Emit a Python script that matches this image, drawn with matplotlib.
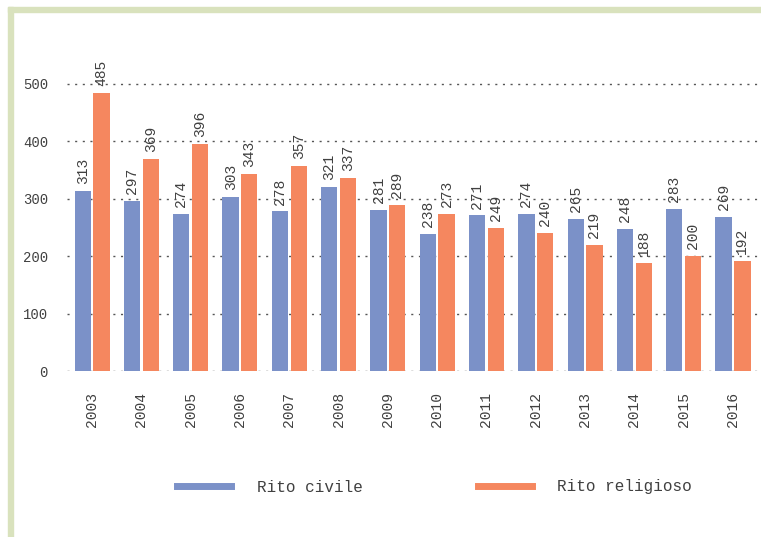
import matplotlib.pyplot as plt
import numpy as np
from matplotlib.patches import Rectangle
from matplotlib.lines import Line2D

anni = ["2003", "2004", "2005", "2006", "2007", "2008", "2009",
        "2010", "2011", "2012", "2013", "2014", "2015", "2016"]
rito_civile = [313, 297, 274, 303, 278, 321, 281, 238, 271, 274, 265, 248, 283, 269]
rito_religioso = [485, 369, 396, 343, 357, 337, 289, 273, 249, 240, 219, 188, 200, 192]

blu = "#7b91c8"
arancio = "#f5875f"
grigio = "#404040"
font = "Liberation Mono"

fig = plt.figure(figsize=(7.61, 5.37), dpi=100)

# cornice verde
fig.patches.append(Rectangle((8 / 761, 0), 5 / 761, 1 - 7 / 537, transform=fig.transFigure,
                             color="#d9e2bd", zorder=0))
fig.patches.append(Rectangle((8 / 761, 1 - 12 / 537), 1, 5 / 537, transform=fig.transFigure,
                             color="#d9e2bd", zorder=0))

ax = fig.add_axes([0.0886, 0.309, 0.907, 0.6415])
x = np.arange(len(anni))
w = 0.33
b1 = ax.bar(x - w / 2 - 0.025, rito_civile, w, color=blu, zorder=2)
b2 = ax.bar(x + w / 2 + 0.025, rito_religioso, w, color=arancio, zorder=2)

for barre, valori in [(b1, rito_civile), (b2, rito_religioso)]:
    for b, v in zip(barre, valori):
        ax.annotate(str(v), (b.get_x() + b.get_width() / 2, v), xytext=(0, 5),
                    textcoords="offset points", rotation=90, ha="center", va="bottom",
                    fontsize=10.5, family=font, color=grigio)

ax.set_xlim(-0.5, len(anni) - 0.5)
ax.set_ylim(0, 600)
ax.set_yticks([0, 100, 200, 300, 400, 500])
ax.yaxis.grid(True, linestyle=(0, (1.5, 4)), color="#555555", linewidth=1, zorder=1)
ax.set_axisbelow(True)
for s in ax.spines.values():
    s.set_visible(False)
ax.tick_params(length=0)
ax.tick_params(axis="y", pad=14, labelsize=10, labelcolor=grigio)
ax.set_xticks(x)
ax.set_xticklabels(anni, rotation=90, family=font, fontsize=10.5, color=grigio)
ax.tick_params(axis="x", pad=15)
for t in ax.get_yticklabels():
    t.set_family(font)

maniglie = [Line2D([], [], color=blu, linewidth=5), Line2D([], [], color=arancio, linewidth=5)]
fig.legend(maniglie, ["Rito civile", "Rito religioso"], loc="center",
           bbox_to_anchor=(0.571, 1 - 487 / 537), ncol=2, frameon=False,
           prop={"family": font, "size": 11.5}, handlelength=3.4, handletextpad=1.6,
           columnspacing=7.2, labelcolor=grigio)

plt.savefig("out.png", dpi=100)
